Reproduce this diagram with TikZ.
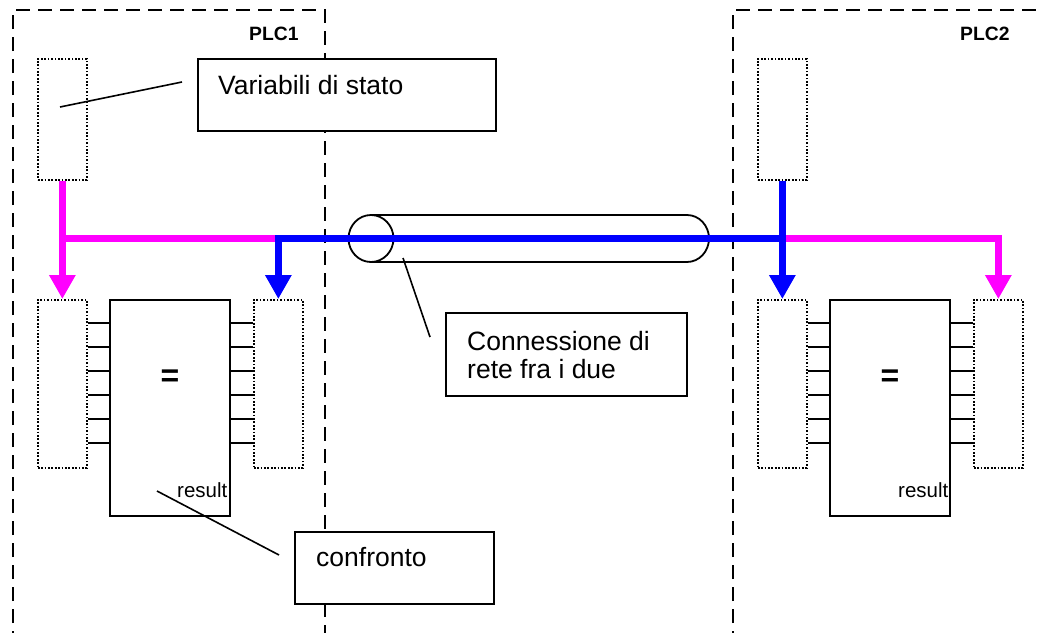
\documentclass[tikz,border=0pt]{standalone}
\usepackage{fontspec}
\setmainfont{Liberation Sans}
\usetikzlibrary{arrows.meta}
\begin{document}
\begin{tikzpicture}[x=1pt,y=-1pt,
  plcframe/.style={line width=2.2pt, dash pattern=on 14pt off 8pt},
  varbox/.style={draw, line width=1.7pt, dash pattern=on 1.7pt off 1.7pt, minimum width=49pt, inner sep=0pt, anchor=north west},
  topvar/.style={varbox, minimum height=121pt},
  iovar/.style={varbox, minimum height=168pt},
  fblock/.style={draw, line width=1.8pt, minimum width=120pt, minimum height=216pt, inner sep=0pt, anchor=north west},
  note/.style={draw, fill=white, line width=1.8pt, inner sep=0pt, anchor=north west},
  lead/.style={line width=1.6pt},
  pin/.style={line width=1.8pt},
  txt/.style={font=\fontsize{26.5}{28}\selectfont, anchor=base west, inner sep=0pt},
  small/.style={font=\fontsize{20.5}{24}\selectfont, anchor=base west, inner sep=0pt},
  plclabel/.style={font=\fontsize{19.3}{22}\selectfont\bfseries, anchor=base west, inner sep=0pt},
  eqlabel/.style={font=\fontsize{32}{34}\selectfont\bfseries, inner sep=0pt},
  magline/.style={line width=7pt, draw={rgb,255:red,255;green,0;blue,255}, line join=miter},
  bluline/.style={line width=7pt, draw={rgb,255:red,0;green,0;blue,255}, line join=miter},
  tip/.style={-{Triangle[width=25pt,length=24pt]}}
]
\useasboundingbox (0,0) rectangle (1038,632);
\begin{scope}
\clip (0,0) rectangle (1038,632);
% PLC frames
\draw[plcframe] (13,645) -- (13,10) -- (325,10) -- (325,645);
\draw[plcframe] (733,645) -- (733,10) -- (1045,10);
\end{scope}
\node[plclabel] (plc1) at (249,40) {PLC1};
\node[plclabel] (plc2) at (960,40) {PLC2};

% PLC1 blocks
\node[topvar] (vL) at (37,58) {};
\node[iovar] (inL) at (37,299) {};
\node[iovar] (outL) at (253,299) {};
\node[fblock] (bL) at (109,299) {};
\node[eqlabel] (eqL) at (170,378) {=};
\node[small] (resL) at (177,497) {result};
\foreach \yy in {323,347,371,395,419,443} {
  \draw[pin] (inL.east |- 0,\yy) -- (bL.west |- 0,\yy);
  \draw[pin] (bL.east |- 0,\yy) -- (outL.west |- 0,\yy);
}

% PLC2 blocks
\node[topvar] (vR) at (757,58) {};
\node[iovar] (inR) at (757,299) {};
\node[iovar] (outR) at (973,299) {};
\node[fblock] (bR) at (829,299) {};
\node[eqlabel] (eqR) at (890,378) {=};
\node[small] (resR) at (898,497) {result};
\foreach \yy in {323,347,371,395,419,443} {
  \draw[pin] (inR.east |- 0,\yy) -- (bR.west |- 0,\yy);
  \draw[pin] (bR.east |- 0,\yy) -- (outR.west |- 0,\yy);
}

% network cable (cylinder)
\draw[line width=1.8pt] (371,238.5) ellipse [x radius=22.5pt, y radius=23.5pt];
\draw[line width=1.8pt] (371,215) -- (687,215)
  .. controls (699.1,215) and (709,225.5) .. (709,238.5)
  .. controls (709,251.5) and (699.1,262) .. (687,262) -- (371,262);

% junctions
\coordinate (jL) at (vL.south |- 0,238);
\coordinate (jM) at (outL.north |- 0,238);
\coordinate (jR) at (vR.south |- 0,238);
\coordinate (jE) at (outR.north |- 0,238);

% magenta flows
\draw[magline, tip] (vL.south) -- (inL.north);
\draw[magline] (jL) -- (jM);
\draw[magline, tip] (jR) -- (jE) -- (outR.north);
% blue flows
\draw[bluline, tip] (jR) -- (jM) -- (outL.north);
\draw[bluline, tip] (vR.south) -- (inR.north);

% notes
\node[note, minimum width=298pt, minimum height=72pt] (nVar) at (197,58) {};
\node[txt] (tVar) at (218,94) {Variabili di stato};
\node[note, minimum width=241pt, minimum height=83pt] (nNet) at (445,312) {};
\node[txt] (tNet1) at (467,350) {Connessione di};
\node[txt] (tNet2) at (467,378) {rete fra i due};
\node[note, minimum width=199pt, minimum height=72pt] (nCmp) at (294,531) {};
\node[txt] (tCmp) at (316,566) {confronto};

% leader lines
\coordinate (aVar) at (60,107);
\coordinate (eVar) at (182,82);
\draw[lead] (aVar) -- (eVar);
\coordinate (aNet) at (403,258);
\coordinate (eNet) at (430,337);
\draw[lead] (aNet) -- (eNet);
\coordinate (aCmp) at (157,491);
\coordinate (eCmp) at (279,555);
\draw[lead] (aCmp) -- (eCmp);
\end{tikzpicture}
\end{document}
